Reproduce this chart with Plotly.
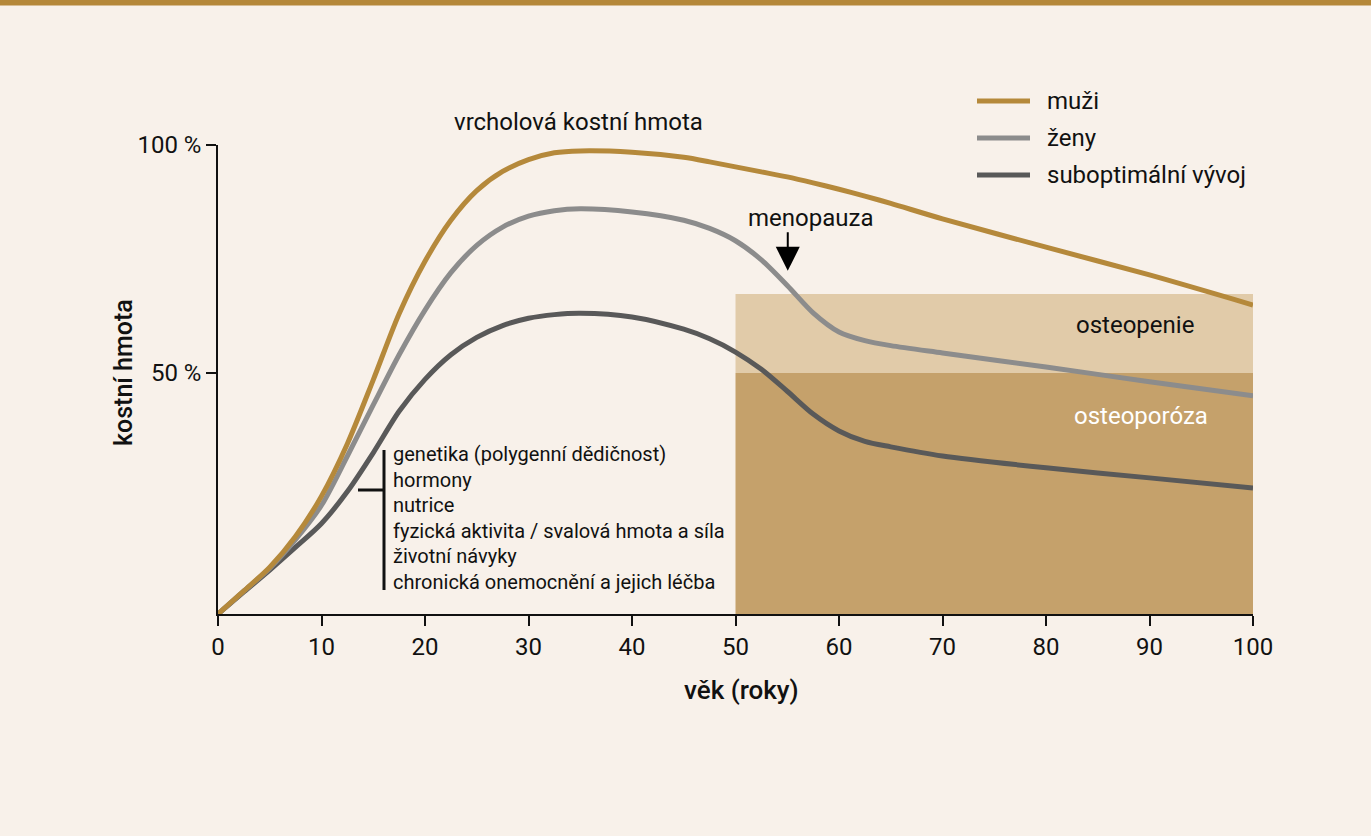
import plotly.graph_objects as go

# ---- data ----
age = [0, 2.5, 5, 7.5, 10, 12.5, 15, 17.5, 20, 22.5, 25, 27.5, 30, 32.5, 35, 40, 45, 47.5,
       50, 52.5, 55, 57.5, 60, 62.5, 65, 70, 80, 90, 100]
muzi = [-2.85, 2.2, 7.4, 14.2, 23.0, 34.5, 48.5, 63.0, 74.5, 83.5, 90.0, 94.2, 96.8, 98.3, 98.7,
        98.4, 97.3, 96.3, 95.2, 94.1, 93.0, 91.7, 90.3, 88.8, 87.2, 83.8, 77.6, 71.5, 64.9]
zeny = [-2.85, 2.2, 7.2, 13.5, 21.0, 31.8, 43.0, 54.0, 63.8, 72.0, 78.0, 82.0, 84.4, 85.6, 86.0,
        85.3, 83.5, 81.7, 79.0, 74.8, 69.2, 63.2, 59.0, 57.1, 56.0, 54.4, 51.3, 48.1, 45.0]
subopt = [-2.85, 2.0, 6.8, 11.8, 17.0, 24.0, 32.5, 41.6, 48.6, 54.0, 57.8, 60.4, 62.0, 62.8, 63.1,
          62.3, 59.6, 57.5, 54.6, 50.8, 46.0, 41.0, 37.3, 35.0, 33.8, 31.8, 29.2, 27.0, 24.8]
series_names = ["muži", "ženy", "suboptimální vývoj"]
series_colors = ["#B5893B", "#8C8C8C", "#595959"]
x_ticks = [0, 10, 20, 30, 40, 50, 60, 70, 80, 90, 100]
y_ticks = [50, 100]
y_ticktext = ["50 %", "100 %"]
factors = ["genetika (polygenní dědičnost)", "hormony", "nutrice",
           "fyzická aktivita / svalová hmota a síla", "životní návyky",
           "chronická onemocnění a jejich léčba"]
osteopenie_top = 67.3
osteoporoza_top = 50
zone_start = 50
zone_end = 100
menopauza_age = 55.05

BG = "#F8F1EA"
FONT = "Roboto"
TXT = "#111111"

# pixel helpers for plot area: x 218..1253, y 145..614
def px(p):
    return (p - 218) / 1035

def py(p):
    return (614 - p) / 469

fig = go.Figure()

# zones
fig.add_shape(type="rect", xref="x", yref="y", x0=zone_start, x1=zone_end,
              y0=osteoporoza_top, y1=osteopenie_top, fillcolor="#E1CBA9",
              line_width=0, layer="below")
fig.add_shape(type="rect", xref="x", yref="y", x0=zone_start, x1=zone_end,
              y0=-2.85, y1=osteoporoza_top, fillcolor="#C5A16B",
              line_width=0, layer="below")

# curves (darkest first so gold is on top)
for ys, name, col in [(subopt, series_names[2], series_colors[2]),
                      (zeny, series_names[1], series_colors[1]),
                      (muzi, series_names[0], series_colors[0])]:
    fig.add_trace(go.Scatter(x=age, y=ys, mode="lines", name=name,
                             line=dict(color=col, width=5, shape="spline", smoothing=0.8),
                             showlegend=False, hoverinfo="skip"))

# top band
fig.add_shape(type="rect", xref="paper", yref="paper", x0=px(-5), x1=px(1380),
              y0=py(5.5), y1=py(-10), fillcolor="#B5883A", line_width=0)

def label(x, y, text, size=24, color=TXT, xanchor="center", **kw):
    fig.add_annotation(xref="paper", yref="paper", x=px(x), y=py(y), text=text,
                       showarrow=False, xanchor=xanchor, yanchor="middle",
                       font=dict(family=FONT, size=size, color=color, **kw))

# manual legend
leg_y = [101, 138, 175]
for name, col, ly in zip(series_names, series_colors, leg_y):
    fig.add_shape(type="line", xref="paper", yref="paper",
                  x0=px(977), x1=px(1030), y0=py(ly), y1=py(ly),
                  line=dict(color=col, width=5))
    label(1045, ly, name, xanchor="left")

# annotations
label(578, 122, "vrcholová kostní hmota")
label(810, 218, "menopauza")
fig.add_annotation(x=menopauza_age, y=72.4, ax=0, ay=-40, text="", showarrow=True,
                   arrowhead=2, arrowwidth=2, arrowsize=2.4, arrowcolor="#000000")
label(1135, 325, "osteopenie")
label(1141, 416, "osteoporóza", color="#FFFFFF")

# bracket
fig.add_shape(type="line", xref="paper", yref="paper", x0=px(384), x1=px(384),
              y0=py(450), y1=py(590), line=dict(color=TXT, width=3))
fig.add_shape(type="line", xref="paper", yref="paper", x0=px(358), x1=px(384),
              y0=py(490), y1=py(490), line=dict(color=TXT, width=3))
for i, t in enumerate(factors):
    label(391, 454 + i * 25.6, t, size=20, xanchor="left")

# axis titles
fig.add_annotation(xref="paper", yref="paper", x=px(123), y=py(373),
                   text="kostní hmota", textangle=-90, showarrow=False,
                   xanchor="center", yanchor="middle",
                   font=dict(family=FONT, size=25, color=TXT, weight=500))
label(741, 690, "věk (roky)", size=26, weight=500)

fig.update_xaxes(range=[0, 100], tickvals=x_ticks, showgrid=False, zeroline=False,
                 showline=True, linecolor=TXT, linewidth=1.5,
                 ticks="outside", ticklen=10, tickwidth=1.5, tickcolor=TXT,
                 tickfont=dict(family=FONT, size=24, color=TXT))
fig.update_yaxes(range=[-2.85, 100], tickvals=y_ticks, ticktext=y_ticktext,
                 showgrid=False, zeroline=False,
                 showline=True, linecolor=TXT, linewidth=1.5,
                 ticks="outside", ticklen=10, tickwidth=1.5, tickcolor=TXT,
                 tickfont=dict(family=FONT, size=24, color=TXT))

fig.update_layout(width=1371, height=836, paper_bgcolor=BG, plot_bgcolor=BG,
                  margin=dict(l=218, r=118, t=145, b=222), showlegend=False,
                  font=dict(family=FONT))

fig.write_html("out.html", config={"displayModeBar": False},
               post_script="document.body.style.margin='0';"
                           "document.body.style.background='#F8F1EA';")
